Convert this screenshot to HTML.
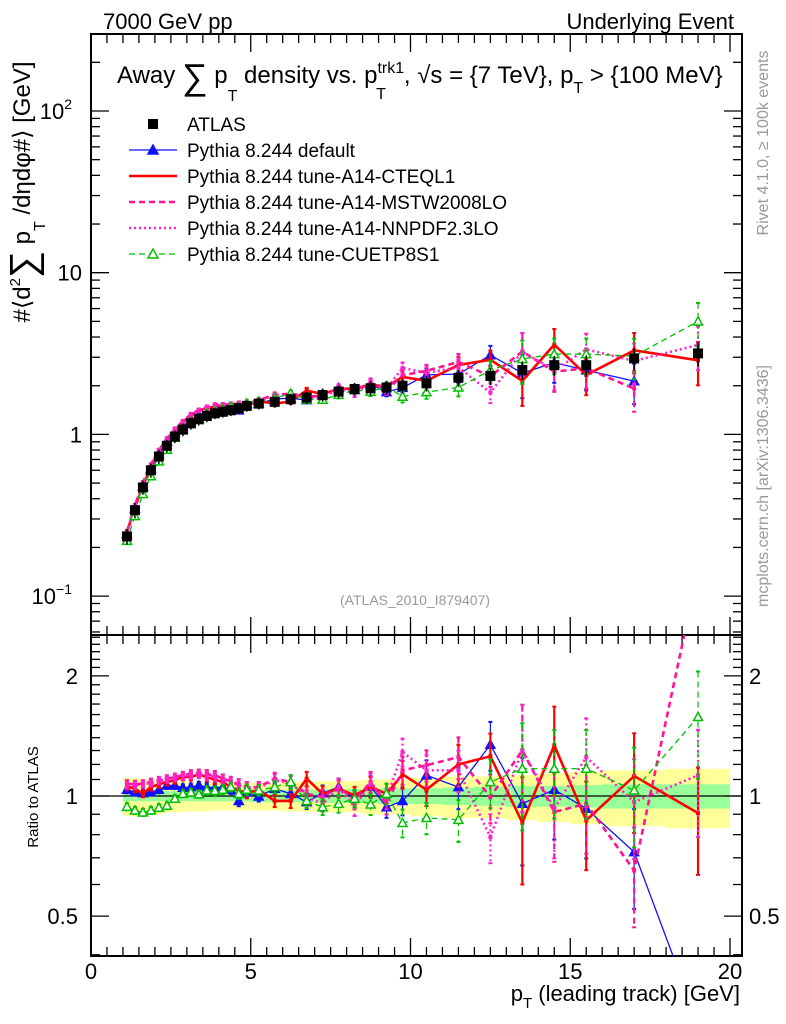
<!DOCTYPE html>
<html><head><meta charset="utf-8"><style>
html,body{margin:0;padding:0;background:#fff;overflow:hidden;width:786px;height:1024px;}
svg{display:block;font-family:"Liberation Sans",sans-serif;}
</style></head><body>
<svg id="chart" width="786" height="1024" viewBox="0 0 786 1024" xmlns="http://www.w3.org/2000/svg">
<defs>
<clipPath id="clipTop"><rect x="91" y="34" width="651" height="601"/></clipPath>
<clipPath id="clipRat"><rect x="91" y="635" width="651" height="321"/></clipPath>
</defs>
<text x="103" y="29" font-size="22">7000 GeV pp</text>
<text x="734" y="29" font-size="22" text-anchor="end">Underlying Event</text>
<g id="bands" clip-path="url(#clipRat)"></g>
<g id="axes"></g>
<text x="117" y="83" font-size="24">Away <tspan font-size="36" dy="6">∑</tspan><tspan dy="-6"> p</tspan><tspan font-size="16" dy="18">T</tspan><tspan dy="-18"> density vs. p</tspan><tspan font-size="16" dy="-10">trk1</tspan><tspan font-size="16" dx="-28" dy="26">T</tspan><tspan dx="18" dy="-16">, √s = {7 TeV}, p</tspan><tspan font-size="16" dy="10">T</tspan><tspan dy="-10"> &gt; {100 MeV}</tspan></text>
<g id="legend"></g>
<text x="415" y="605" font-size="14" fill="#999" text-anchor="middle">(ATLAS_2010_I879407)</text>
<text transform="translate(30,192) rotate(-90)" font-size="24" text-anchor="middle">#⟨d<tspan font-size="15" dy="-10">2</tspan><tspan font-size="38" dy="16">∑</tspan><tspan dy="-6"> p</tspan><tspan font-size="16" dy="15">T</tspan><tspan dy="-15"> /dηdφ#⟩ [GeV]</tspan></text>
<text transform="translate(38,797) rotate(-90)" font-size="15" text-anchor="middle">Ratio to ATLAS</text>
<text transform="translate(768,143) rotate(-90)" font-size="16" fill="#999" text-anchor="middle">Rivet 4.1.0, ≥ 100k events</text>
<text transform="translate(768,486) rotate(-90)" font-size="16" fill="#999" text-anchor="middle">mcplots.cern.ch [arXiv:1306.3436]</text>
<text x="740" y="1001" font-size="22" text-anchor="end">p<tspan font-size="15" dy="7">T</tspan><tspan dy="-7"> (leading track) [GeV]</tspan></text>
<g id="series"></g>
</svg>
<script>
const xCenters=[1.125,1.375,1.625,1.875,2.125,2.375,2.625,2.875,3.125,3.375,3.625,3.875,4.125,4.375,4.625,4.875,5.25,5.75,6.25,6.75,7.25,7.75,8.25,8.75,9.25,9.75,10.5,11.5,12.5,13.5,14.5,15.5,17,19];
const xLo=[1,1.25,1.5,1.75,2,2.25,2.5,2.75,3,3.25,3.5,3.75,4,4.25,4.5,4.75,5,5.5,6,6.5,7,7.5,8,8.5,9,9.5,10,11,12,13,14,15,16,18];
const xHi=[1.25,1.5,1.75,2,2.25,2.5,2.75,3,3.25,3.5,3.75,4,4.25,4.5,4.75,5,5.5,6,6.5,7,7.5,8,8.5,9,9.5,10,11,12,13,14,15,16,18,20];
const atlas=[0.234,0.34,0.47,0.60,0.73,0.85,0.97,1.07,1.17,1.24,1.30,1.35,1.38,1.41,1.45,1.50,1.55,1.59,1.65,1.69,1.75,1.84,1.91,1.93,1.95,2.0,2.07,2.24,2.30,2.50,2.68,2.68,2.95,3.17];
const statErr=[0.03,0.03,0.03,0.03,0.03,0.03,0.03,0.03,0.03,0.03,0.03,0.03,0.03,0.03,0.03,0.03,0.035,0.035,0.035,0.035,0.04,0.04,0.04,0.04,0.045,0.045,0.045,0.05,0.055,0.06,0.06,0.065,0.07,0.07];
const totErr=[0.11,0.11,0.1,0.1,0.1,0.09,0.09,0.09,0.085,0.085,0.085,0.08,0.08,0.08,0.08,0.08,0.08,0.08,0.085,0.085,0.09,0.09,0.09,0.1,0.1,0.1,0.11,0.12,0.12,0.13,0.14,0.15,0.16,0.17];
const mcErr=[0.02,0.02,0.02,0.02,0.02,0.02,0.02,0.02,0.02,0.02,0.025,0.025,0.025,0.025,0.03,0.03,0.03,0.035,0.04,0.04,0.045,0.05,0.05,0.06,0.06,0.08,0.09,0.12,0.14,0.3,0.25,0.25,0.28,0.3];
const rDefault=[1.037,1.023,1.017,1.023,1.037,1.063,1.063,1.049,1.053,1.063,1.053,1.049,1.053,1.037,0.972,1.023,0.998,1.043,1.013,0.966,1.017,1.053,0.985,1.057,0.938,0.972,1.127,1.053,1.345,0.957,1.037,0.93,0.724,0.27];
const rCTEQ=[1.057,1.043,1.013,1.053,1.070,1.084,1.095,1.116,1.116,1.133,1.116,1.099,1.084,1.053,1.033,1.017,1.037,0.972,0.972,1.105,1.013,1.043,1.004,1.053,1.013,1.133,1.037,1.2,1.258,0.857,1.34,0.869,1.122,0.906];
const rMSTW=[1.074,1.070,1.074,1.084,1.095,1.105,1.116,1.127,1.138,1.142,1.133,1.127,1.105,1.090,1.070,1.053,1.053,1.105,1.084,1.013,0.994,1.053,0.975,1.084,0.956,1.160,1.194,1.252,0.994,1.302,0.912,0.956,0.651,3.68];
const rNNPDF=[1.063,1.063,1.070,1.078,1.090,1.099,1.111,1.120,1.127,1.133,1.124,1.116,1.099,1.084,1.063,1.049,1.049,1.095,1.078,0.994,0.956,1.049,0.938,1.074,0.985,1.289,1.160,1.160,0.789,1.302,0.93,1.252,0.966,1.127];
const rCUETP=[0.94,0.92,0.91,0.92,0.935,0.946,0.985,1.013,1.021,1.01,1.033,1.03,1.037,1.053,1.013,1.037,1.033,1.053,1.084,0.972,0.938,0.956,0.985,0.953,1.013,0.856,0.881,0.872,1.084,1.171,1.171,1.171,1.033,1.578];
const xTickLabels=["0","5","10","15","20"];

const NS="http://www.w3.org/2000/svg";
const X0=91,X1=742,TOP=34,MID=635,BOT=956;
const xs=v=>X0+v*(730-X0)/20;
const yTop=v=>434.4-161.7*Math.log10(v);
const yRat=r=>796-399*Math.log10(r);
function mk(tag,attrs,parent){const e=document.createElementNS(NS,tag);for(const k in attrs)e.setAttribute(k,attrs[k]);parent.appendChild(e);return e;}
const axes=document.getElementById('axes'),bands=document.getElementById('bands'),series=document.getElementById('series'),legend=document.getElementById('legend');

for(let i=0;i<xCenters.length;i++){
  const y=mk('rect',{x:xs(xLo[i]),y:yRat(1+totErr[i]),width:xs(xHi[i])-xs(xLo[i]),height:yRat(1-totErr[i])-yRat(1+totErr[i]),fill:'#ffff99'},bands);
  
  
}
for(let i=0;i<xCenters.length;i++){
  const g=mk('rect',{x:xs(xLo[i]),y:yRat(1+statErr[i]),width:xs(xHi[i])-xs(xLo[i]),height:yRat(1-statErr[i])-yRat(1+statErr[i]),fill:'#99ff99'},bands);
  
  
}
mk('line',{x1:X0,x2:X1,y1:yRat(1),y2:yRat(1),stroke:'#000','stroke-width':1.2},bands);

const fr1=mk('rect',{x:X0,y:TOP,width:X1-X0,height:MID-TOP,fill:'none',stroke:'#000','stroke-width':2},axes);


const fr2=mk('rect',{x:X0,y:MID,width:X1-X0,height:BOT-MID,fill:'none',stroke:'#000','stroke-width':2},axes);


for(let k=0;k<=40;k++){
  const v=k*0.5,x=xs(v),L=(k%10===0)?18:9;
  [[TOP,1],[MID,-1],[MID,1],[BOT,-1]].forEach(([y,d])=>mk('line',{x1:x,x2:x,y1:y,y2:y+d*L,stroke:'#000','stroke-width':1.3},axes));
}
xTickLabels.forEach((t,i)=>{const e=mk('text',{x:xs(i*5),y:979,'font-size':22,'text-anchor':'middle'},axes);e.textContent=t;
  
  });
for(let d=-2;d<=2;d++){for(let m=1;m<=9;m++){const v=m*Math.pow(10,d),y=yTop(v);if(y<TOP||y>MID)continue;const L=m===1?18:9;
  mk('line',{x1:X0,x2:X0+L,y1:y,y2:y,stroke:'#000','stroke-width':1.3},axes);mk('line',{x1:X1,x2:X1-L,y1:y,y2:y,stroke:'#000','stroke-width':1.3},axes);}}
[[100,'10','2'],[10,'10',''],[1,'1',''],[0.1,'10','−1']].forEach(([v,b,s])=>{const e=mk('text',{x:s?72:82,y:yTop(v)+8,'font-size':22,'text-anchor':'end'},axes);e.textContent=b;
  
  
  if(s){const t=mk('tspan',{'font-size':14,dy:-10},e);t.textContent=s;}});
const rt=[0.4,0.5,0.6,0.7,0.8,0.9,1,1.1,1.2,1.3,1.4,1.5,1.6,1.7,1.8,1.9,2,2.1,2.2,2.3,2.4,2.5];
rt.forEach(r=>{const y=yRat(r);if(y<MID||y>BOT)return;const L=(r===0.5||r===1||r===2)?18:9;
  mk('line',{x1:X0,x2:X0+L,y1:y,y2:y,stroke:'#000','stroke-width':1.3},axes);mk('line',{x1:X1,x2:X1-L,y1:y,y2:y,stroke:'#000','stroke-width':1.3},axes);});
[[2,'2'],[1,'1'],[0.5,'0.5']].forEach(([r,t])=>{
  const a=mk('text',{x:78,y:yRat(r)+8,'font-size':22,'text-anchor':'end'},axes);a.textContent=t;
  
  
  const b=mk('text',{x:749,y:yRat(r)+8,'font-size':22},axes);b.textContent=t;
  
  });

const defs=[
 {name:'pythia-default',r:rDefault,col:'#1010ff',w:1.3,dash:'',mark:'tri',fill:true,topN:33},
 {name:'pythia-a14-cteql1',r:rCTEQ,col:'#ff0000',w:2.6,dash:'',mark:'sq',fill:true,topN:34},
 {name:'pythia-a14-mstw2008lo',r:rMSTW,col:'#ff1493',w:2.6,dash:'6,4',mark:'sq',fill:true,topN:33},
 {name:'pythia-a14-nnpdf23lo',r:rNNPDF,col:'#ff22cc',w:2.6,dash:'2,3',mark:'sq',fill:true,topN:34},
 {name:'pythia-cuetp8s1',r:rCUETP,col:'#00c000',w:1.3,dash:'6,4',mark:'tri',fill:false,topN:34}];
function marker(g,type,x,y,col,fill,s){
  if(type==='tri'){mk('polygon',{points:`${x},${y-s} ${x-s},${y+s*0.8} ${x+s},${y+s*0.8}`,fill:fill?col:'#fff',stroke:col,'stroke-width':1.5},g);}
  else mk('rect',{x:x-2,y:y-2,width:4,height:4,fill:col},g);
}
function drawSeries(d,panel){
  const g=mk('g',{'clip-path':panel==='top'?'url(#clipTop)':'url(#clipRat)'},series);
  
  
  const n=panel==='top'?d.topN:xCenters.length;
  const yf=i=>panel==='top'?yTop(atlas[i]*d.r[i]):yRat(d.r[i]);
  const yfv=(i,f)=>panel==='top'?yTop(atlas[i]*d.r[i]*f):yRat(d.r[i]*f);
  const idx=xCenters.map((x,i)=>i).slice(0,n);
  const pts=idx.map(i=>xs(xCenters[i])+','+yf(i)).join(' ');
  const p=mk('polyline',{points:pts,fill:'none',stroke:d.col,'stroke-width':d.w,'stroke-dasharray':d.dash},g);
  
  
  idx.forEach(i=>{const X=xs(xCenters[i]),y1=yfv(i,1+mcErr[i]),y2=yfv(i,1-mcErr[i]);
    mk('line',{x1:X,x2:X,y1:y1,y2:y2,stroke:d.col,'stroke-width':d.w>2?2.2:1.2,'stroke-dasharray':d.dash},g);
    mk('line',{x1:X-2,x2:X+2,y1:y1,y2:y1,stroke:d.col,'stroke-width':2},g);
    mk('line',{x1:X-2,x2:X+2,y1:y2,y2:y2,stroke:d.col,'stroke-width':2},g);
    marker(g,d.mark,X,yf(i),d.col,d.fill,4.5);});
}
defs.forEach(d=>drawSeries(d,'top'));
defs.forEach(d=>drawSeries(d,'ratio'));
const gd=mk('g',{'clip-path':'url(#clipTop)'},series);


xCenters.forEach((x,i)=>{const X=xs(x),Y=yTop(atlas[i]);
  mk('line',{x1:X,x2:X,y1:yTop(atlas[i]*(1+totErr[i])),y2:yTop(atlas[i]*(1-totErr[i])),stroke:'#000','stroke-width':1.5},gd);
  const r=mk('rect',{x:X-5,y:Y-5,width:10,height:10,fill:'#000'},gd);
  
  });

const legText=['ATLAS','Pythia 8.244 default','Pythia 8.244 tune-A14-CTEQL1','Pythia 8.244 tune-A14-MSTW2008LO','Pythia 8.244 tune-A14-NNPDF2.3LO','Pythia 8.244 tune-CUETP8S1'];
legText.forEach((t,i)=>{const y=124+i*26;
  const g=mk('g',{},legend);
  
  
  if(i===0){mk('rect',{x:148,y:y-5,width:10,height:10,fill:'#000'},g);}
  else{const d=defs[i-1];mk('line',{x1:129,x2:177,y1:y,y2:y,stroke:d.col,'stroke-width':d.w,'stroke-dasharray':d.dash},g);
    if(d.mark==='tri')marker(g,'tri',153,y,d.col,d.fill,5);}
  const e=mk('text',{x:187,y:y+7,'font-size':19},g);e.textContent=t;});
</script>
</body></html>
